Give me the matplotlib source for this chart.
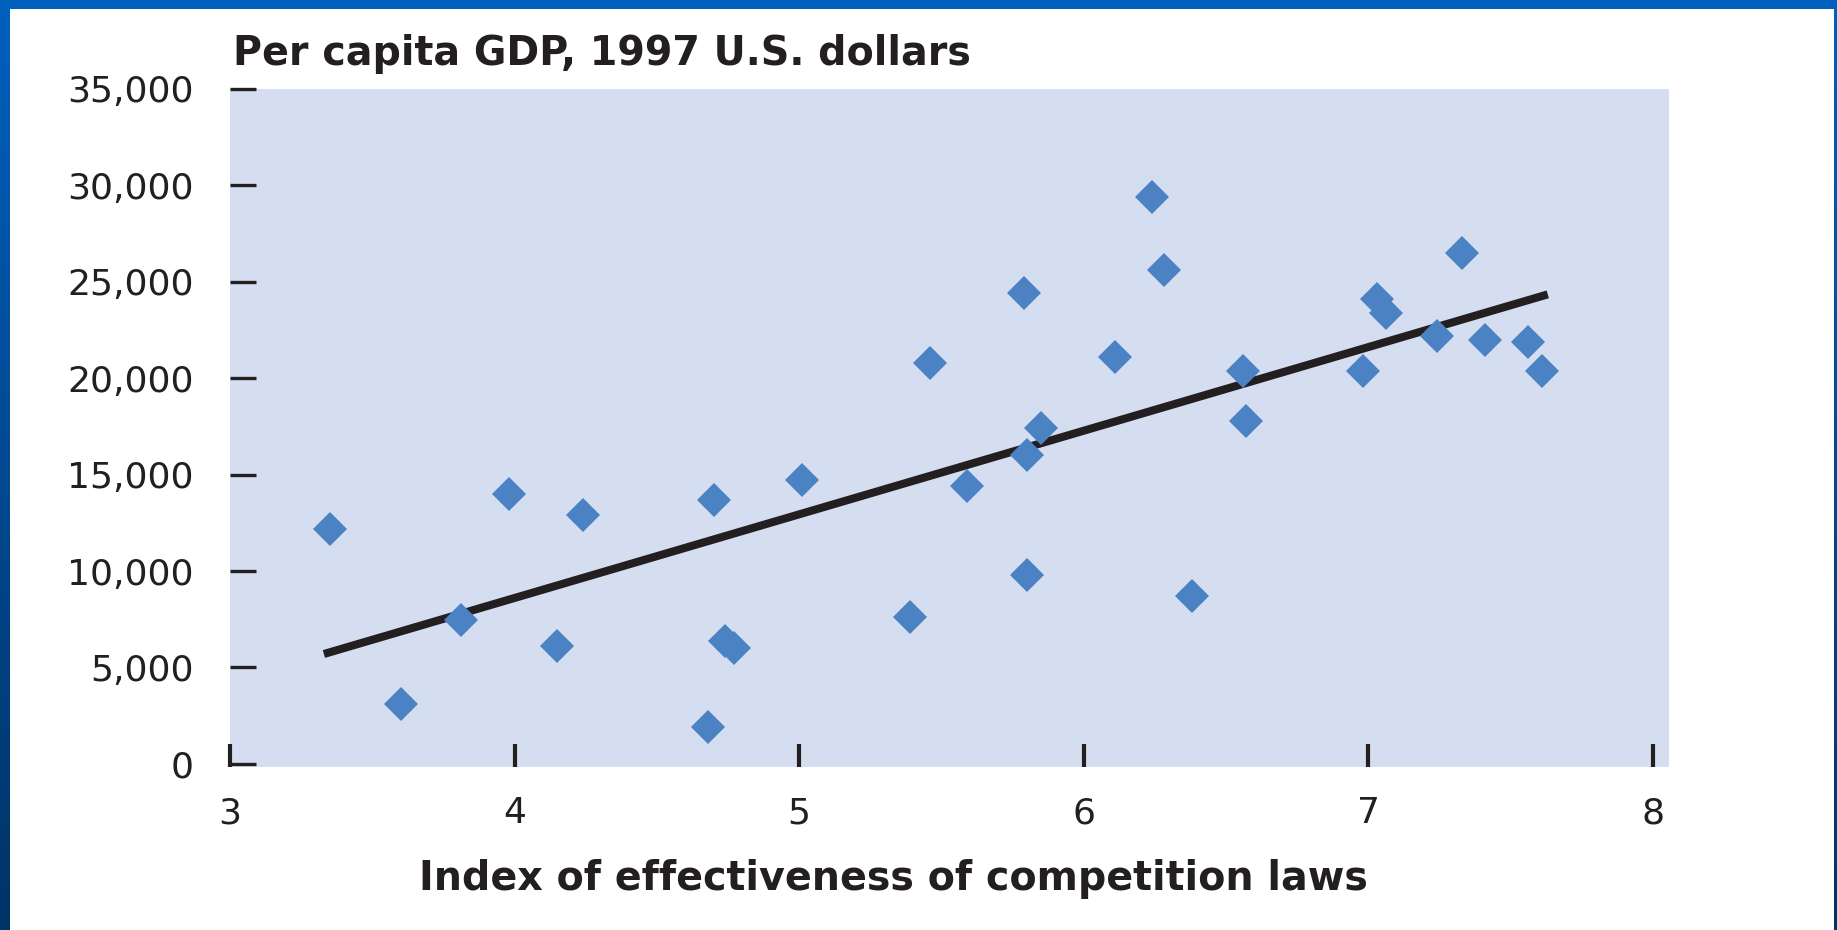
import matplotlib
matplotlib.use("Agg")
import matplotlib.pyplot as plt
import numpy as np
from matplotlib.colors import LinearSegmentedColormap

# ---- data ----
competition_index = [3.35, 3.60, 3.81, 3.98, 4.15, 4.24, 4.68, 4.70, 4.74, 4.77,
                     5.01, 5.39, 5.46, 5.59, 5.79, 5.80, 5.80, 5.85, 6.11, 6.24,
                     6.28, 6.38, 6.56, 6.57, 6.98, 7.03, 7.06, 7.24, 7.33, 7.41,
                     7.56, 7.61]
gdp_per_capita = [12200, 3100, 7450, 14000, 6100, 12900, 1900, 13700, 6400, 6000,
                  14700, 7600, 20800, 14400, 24400, 16000, 9800, 17400, 21100, 29400,
                  25600, 8700, 20400, 17800, 20400, 24100, 23400, 22200, 26500, 22000,
                  21900, 20400]
trend_x = [3.33, 7.63]
trend_y = [5700, 24350]

x_ticks = [3, 4, 5, 6, 7, 8]
y_ticks = [0, 5000, 10000, 15000, 20000, 25000, 30000, 35000]
y_tick_labels = ["0", "5,000", "10,000", "15,000", "20,000", "25,000", "30,000", "35,000"]

title_text = "Per capita GDP, 1997 U.S. dollars"
xlabel_text = "Index of effectiveness of competition laws"

# ---- styling ----
W, H = 1837, 930
DPI = 100
bg_plot = "#d5def0"
marker_col = "#4a82c4"
ink = "#231f20"
frame_top = "#0060be"
frame_bottom = "#003366"

fig = plt.figure(figsize=(W / DPI, H / DPI), dpi=DPI, facecolor="white")

def fig_rect(x0, y0, x1, y1):
    return [x0 / W, 1 - y1 / H, (x1 - x0) / W, (y1 - y0) / H]

# frame: top bar and side gradients
cmap = LinearSegmentedColormap.from_list("frame", [frame_top, frame_bottom])
grad = np.linspace(0, 1, 256).reshape(-1, 1)
for (x0, x1) in [(0, 10), (1834, 1837)]:
    a = fig.add_axes(fig_rect(x0, 0, x1, H))
    a.imshow(grad, aspect="auto", cmap=cmap, extent=[0, 1, 1, 0])
    a.set_axis_off()
atop = fig.add_axes(fig_rect(0, 0, W, 9))
atop.set_facecolor(frame_top)
atop.set_xticks([]); atop.set_yticks([])
for s in atop.spines.values():
    s.set_visible(False)

# main axes
ax = fig.add_axes(fig_rect(230, 89, 1669, 767))
ax.set_facecolor(bg_plot)
ax.set_xlim(3, 8.056)
ax.set_ylim(-160, 35000)
for s in ax.spines.values():
    s.set_visible(False)

ax.plot(trend_x, trend_y, color=ink, lw=5.8, solid_capstyle="butt", zorder=2)
ax.plot(competition_index, gdp_per_capita, linestyle="none", marker="D",
        markersize=17.5, markerfacecolor=marker_col, markeredgewidth=0, zorder=3)

ax.set_xticks(x_ticks)
ax.set_xticklabels([str(t) for t in x_ticks])
ax.set_yticks(y_ticks)
ax.set_yticklabels(y_tick_labels)
ax.tick_params(axis="x", direction="in", length=16.5, width=3.0, color=ink,
               labelsize=26, labelcolor=ink, pad=21)
ax.tick_params(axis="y", direction="in", length=19, width=2.4, color=ink,
               labelsize=26, labelcolor=ink, pad=26)
for lab in ax.get_xticklabels() + ax.get_yticklabels():
    lab.set_family("DejaVu Sans")

fig.text(233 / W, 1 - 65 / H, title_text, ha="left", va="baseline",
         fontsize=28.5, fontweight="bold", color=ink, family="DejaVu Sans")
fig.text(893 / W, 1 - 890 / H, xlabel_text, ha="center", va="baseline",
         fontsize=28.5, fontweight="bold", color=ink, family="DejaVu Sans")

fig.savefig("out.png", dpi=DPI, facecolor="white")
